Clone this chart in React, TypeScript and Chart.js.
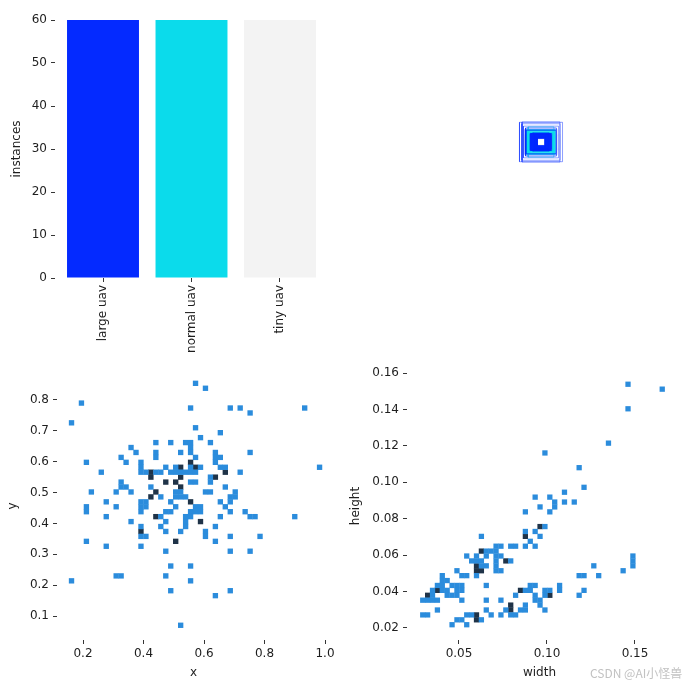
import React, { useEffect, useRef } from "react";
import { Chart, registerables, ChartConfiguration } from "chart.js";

Chart.register(...registerables);

// class counts (top left)
const classNames = ["large uav", "normal uav", "tiny uav"];
const instanceCounts = [60, 60, 60];
const classColors = ["#042AFF", "#0BDBEB", "#F3F3F3"];
const instanceTicks = [0, 10, 20, 30, 40, 50, 60];

// box centre histogram: [x, y, count]
const xyCells: number[][] = [
  [0.568, 0.853, 1], [0.601, 0.837, 1], [0.195, 0.788, 1],
  [0.552, 0.772, 1], [0.682, 0.772, 1], [0.714, 0.772, 1], [0.941, 0.772, 1],
  [0.746, 0.757, 1], [0.162, 0.724, 1], [0.568, 0.709, 1], [0.648, 0.694, 1], [0.585, 0.679, 1],
  [0.438, 0.661, 1], [0.487, 0.661, 1], [0.536, 0.661, 1], [0.552, 0.661, 1], [0.617, 0.661, 1],
  [0.358, 0.645, 1], [0.552, 0.645, 1],
  [0.375, 0.629, 1], [0.438, 0.629, 1], [0.520, 0.629, 1], [0.552, 0.629, 1], [0.632, 0.629, 1], [0.746, 0.629, 1],
  [0.326, 0.615, 1], [0.438, 0.615, 1], [0.568, 0.615, 1], [0.632, 0.615, 1], [0.648, 0.615, 1],
  [0.211, 0.598, 1], [0.342, 0.598, 1], [0.391, 0.598, 1], [0.552, 0.598, 2], [0.632, 0.598, 1],
  [0.391, 0.580, 1], [0.471, 0.580, 1], [0.504, 0.580, 1], [0.520, 0.580, 2], [0.552, 0.580, 1],
  [0.568, 0.580, 2], [0.585, 0.580, 1], [0.648, 0.580, 1], [0.664, 0.580, 1], [0.981, 0.580, 1],
  [0.260, 0.566, 1], [0.391, 0.566, 1], [0.408, 0.566, 1], [0.422, 0.566, 2], [0.438, 0.566, 1],
  [0.455, 0.566, 1], [0.487, 0.566, 1], [0.504, 0.566, 1], [0.520, 0.566, 1], [0.536, 0.566, 1],
  [0.552, 0.566, 1], [0.568, 0.566, 1], [0.664, 0.566, 2], [0.714, 0.566, 1],
  [0.422, 0.551, 2], [0.520, 0.551, 2], [0.617, 0.551, 1], [0.632, 0.551, 2],
  [0.326, 0.534, 1], [0.471, 0.534, 2], [0.504, 0.534, 2], [0.552, 0.534, 1], [0.568, 0.534, 1], [0.617, 0.534, 1],
  [0.326, 0.518, 1], [0.342, 0.518, 1], [0.422, 0.518, 1], [0.520, 0.518, 2], [0.664, 0.518, 1],
  [0.227, 0.502, 1], [0.307, 0.502, 1], [0.358, 0.502, 1], [0.438, 0.502, 2], [0.504, 0.502, 1],
  [0.520, 0.502, 1], [0.601, 0.502, 1], [0.617, 0.502, 1], [0.697, 0.502, 1],
  [0.422, 0.488, 2], [0.455, 0.488, 1], [0.504, 0.488, 1], [0.520, 0.488, 1], [0.536, 0.488, 1],
  [0.682, 0.488, 1], [0.697, 0.488, 1],
  [0.277, 0.471, 1], [0.391, 0.471, 1], [0.408, 0.471, 1], [0.487, 0.471, 1], [0.552, 0.471, 2],
  [0.648, 0.471, 1], [0.682, 0.471, 1],
  [0.211, 0.455, 1], [0.307, 0.455, 1], [0.391, 0.455, 1], [0.408, 0.455, 1], [0.504, 0.455, 1],
  [0.568, 0.455, 1], [0.585, 0.455, 1], [0.664, 0.455, 1],
  [0.211, 0.439, 1], [0.391, 0.439, 1], [0.471, 0.439, 1], [0.487, 0.439, 1], [0.552, 0.439, 1],
  [0.568, 0.439, 1], [0.585, 0.439, 1], [0.682, 0.439, 1], [0.730, 0.439, 1],
  [0.277, 0.423, 1], [0.438, 0.423, 2], [0.455, 0.423, 1], [0.536, 0.423, 1], [0.552, 0.423, 1],
  [0.648, 0.423, 1], [0.746, 0.423, 1], [0.763, 0.423, 1], [0.892, 0.423, 1],
  [0.358, 0.406, 1], [0.471, 0.406, 1], [0.536, 0.406, 1], [0.585, 0.406, 2],
  [0.391, 0.390, 1], [0.455, 0.390, 1], [0.536, 0.390, 1], [0.632, 0.390, 1],
  [0.391, 0.374, 2], [0.471, 0.374, 1], [0.520, 0.374, 1], [0.601, 0.374, 1],
  [0.391, 0.357, 1], [0.408, 0.357, 1], [0.601, 0.357, 1], [0.682, 0.357, 1], [0.779, 0.357, 1],
  [0.211, 0.341, 1], [0.504, 0.341, 2], [0.632, 0.341, 1],
  [0.277, 0.327, 1], [0.391, 0.327, 1],
  [0.471, 0.311, 1], [0.682, 0.311, 1], [0.746, 0.311, 1],
  [0.487, 0.262, 1], [0.552, 0.262, 1],
  [0.307, 0.229, 1], [0.326, 0.229, 1], [0.471, 0.229, 1],
  [0.162, 0.213, 1], [0.552, 0.213, 1],
  [0.487, 0.184, 1], [0.682, 0.184, 1], [0.632, 0.167, 1], [0.520, 0.070, 1],
];

// box size histogram: [width, height, count]
const whCells: number[][] = [
  [0.1461, 0.1543, 1], [0.1656, 0.1516, 1], [0.1461, 0.1406, 1], [0.1354, 0.1218, 1],
  [0.0992, 0.1163, 1], [0.1185, 0.1081, 1], [0.1213, 0.0974, 1], [0.1100, 0.0949, 1],
  [0.0935, 0.0921, 1], [0.1020, 0.0921, 1], [0.1044, 0.0894, 1], [0.1100, 0.0894, 1],
  [0.1157, 0.0894, 1], [0.0963, 0.0866, 1], [0.1044, 0.0866, 1], [0.0881, 0.0839, 1], [0.1020, 0.0839, 1],
  [0.0963, 0.0760, 2], [0.0992, 0.0760, 1], [0.0881, 0.0732, 1], [0.0935, 0.0732, 1],
  [0.0881, 0.0705, 2], [0.0963, 0.0705, 1], [0.0631, 0.0705, 1], [0.0907, 0.0677, 1],
  [0.0740, 0.0650, 1], [0.0796, 0.0650, 1], [0.0825, 0.0650, 1], [0.0881, 0.0650, 1], [0.0935, 0.0650, 1],
  [0.0712, 0.0650, 1], [0.0631, 0.0622, 2], [0.0659, 0.0622, 1], [0.0688, 0.0622, 1], [0.0712, 0.0622, 1],
  [0.0547, 0.0595, 1], [0.0603, 0.0595, 1], [0.0659, 0.0595, 1], [0.0712, 0.0595, 1], [0.0740, 0.0595, 1],
  [0.0575, 0.0567, 1], [0.0603, 0.0567, 1], [0.0631, 0.0567, 1], [0.0712, 0.0567, 1], [0.0768, 0.0567, 2],
  [0.0796, 0.0567, 1], [0.0603, 0.0539, 2], [0.0631, 0.0539, 1], [0.0659, 0.0539, 1], [0.0712, 0.0539, 1],
  [0.0491, 0.0512, 1], [0.0603, 0.0512, 2], [0.0631, 0.0512, 2], [0.0712, 0.0512, 1], [0.0740, 0.0512, 1],
  [0.0406, 0.0484, 1], [0.0519, 0.0484, 1], [0.0547, 0.0484, 1], [0.0603, 0.0484, 1],
  [0.0406, 0.0457, 1], [0.0434, 0.0457, 1], [0.0659, 0.0435, 1],
  [0.0378, 0.0429, 1], [0.0406, 0.0429, 1], [0.0462, 0.0429, 1], [0.0491, 0.0429, 1], [0.0519, 0.0429, 1],
  [0.0350, 0.0402, 1], [0.0378, 0.0402, 2], [0.0406, 0.0402, 1], [0.0434, 0.0402, 1], [0.0491, 0.0402, 1],
  [0.0519, 0.0402, 1], [0.0322, 0.0383, 2], [0.0350, 0.0383, 1], [0.0434, 0.0383, 1], [0.0462, 0.0383, 1],
  [0.0491, 0.0383, 1], [0.0294, 0.0356, 1], [0.0322, 0.0356, 1], [0.0350, 0.0356, 1], [0.0378, 0.0356, 1],
  [0.0519, 0.0356, 1], [0.0378, 0.0301, 1], [0.0294, 0.0273, 1], [0.0322, 0.0273, 1],
  [0.0547, 0.0273, 1], [0.0575, 0.0273, 1], [0.0491, 0.0246, 1], [0.0519, 0.0246, 1],
  [0.0462, 0.0218, 1], [0.0547, 0.0218, 1], [0.0603, 0.0273, 2], [0.0603, 0.0246, 2], [0.0631, 0.0246, 1],
  [0.0659, 0.0356, 1], [0.0659, 0.0301, 1], [0.0688, 0.0273, 1], [0.0740, 0.0356, 1], [0.0740, 0.0273, 1],
  [0.0768, 0.0301, 1], [0.0796, 0.0328, 2], [0.0796, 0.0301, 2], [0.0796, 0.0273, 1], [0.0825, 0.0273, 1],
  [0.0825, 0.0383, 1], [0.0853, 0.0301, 1], [0.0881, 0.0301, 1], [0.0881, 0.0328, 1],
  [0.0853, 0.0402, 2], [0.0881, 0.0402, 1], [0.0907, 0.0429, 1], [0.0935, 0.0429, 1], [0.0907, 0.0402, 1],
  [0.0935, 0.0383, 1], [0.0935, 0.0356, 1], [0.0963, 0.0356, 1], [0.0963, 0.0328, 1], [0.0992, 0.0301, 1],
  [0.0992, 0.0402, 1], [0.1020, 0.0402, 1], [0.0992, 0.0383, 1], [0.1020, 0.0383, 2],
  [0.1072, 0.0429, 1], [0.1072, 0.0402, 1], [0.1185, 0.0484, 1], [0.1213, 0.0484, 1],
  [0.1269, 0.0539, 1], [0.1297, 0.0484, 1], [0.1213, 0.0402, 1], [0.1185, 0.0383, 1],
  [0.1434, 0.0512, 1], [0.1491, 0.0595, 1], [0.1491, 0.0567, 1], [0.1491, 0.0539, 1],
];

const xTicks = [0.2, 0.4, 0.6, 0.8, 1.0];
const xTickLabels = ["0.2", "0.4", "0.6", "0.8", "1.0"];
const yTicks = [0.1, 0.2, 0.3, 0.4, 0.5, 0.6, 0.7, 0.8];
const yTickLabels = ["0.1", "0.2", "0.3", "0.4", "0.5", "0.6", "0.7", "0.8"];
const widthTicks = [0.05, 0.1, 0.15];
const widthTickLabels = ["0.05", "0.10", "0.15"];
const heightTicks = [0.02, 0.04, 0.06, 0.08, 0.1, 0.12, 0.14, 0.16];
const heightTickLabels = ["0.02", "0.04", "0.06", "0.08", "0.10", "0.12", "0.14", "0.16"];

// histogram bins (first bin centre, bin size)
const xyBins = { x0: 0.162, dx: 0.0164, y0: 0.07, dy: 0.016 };
const whBins = { x0: 0.0294, dx: 0.002777, y0: 0.0218, dy: 0.002695 };
const countColors = ["#2b8cdc", "#1f3348"];

// guessed class of a drawn box: flat boxes are "tiny", a width band is "normal"
const tinyAspectMax = 0.6;
const normalWidthBand = [0.085, 0.115];

const FONT = { family: "'DejaVu Sans', sans-serif", size: 12 };
const INK = "#1e1e1e";

const snap = (v: number, c0: number, d: number) => c0 + Math.round((v - c0) / d) * d;

function axis(o: {
  min: number; max: number; ticks: number[]; labels: string[]; title?: string;
  width?: number; height?: number; rotate?: boolean;
}): any {
  return {
    type: "linear",
    min: o.min,
    max: o.max,
    bounds: "data",
    offset: false,
    afterBuildTicks: (scale: any) => {
      scale.ticks = o.ticks.map((v) => ({ value: v }));
    },
    afterFit: (scale: any) => {
      if (o.width !== undefined) scale.width = o.width;
      if (o.height !== undefined) scale.height = o.height;
    },
    grid: {
      display: true, drawOnChartArea: false, drawTicks: true, offset: false,
      tickLength: 4, tickWidth: 0.9, tickColor: INK,
    },
    border: { display: false },
    ticks: {
      autoSkip: false,
      padding: o.height !== undefined ? 3 : 4,
      font: FONT,
      color: INK,
      maxRotation: o.rotate ? 90 : 0,
      minRotation: o.rotate ? 90 : 0,
      callback: (_v: any, i: number) => o.labels[i],
    },
    title: { display: !!o.title, text: o.title, font: FONT, color: INK, padding: 0 },
  };
}

function cellSets(cells: number[][], bins: { x0: number; dx: number; y0: number; dy: number }) {
  const radius = (ctx: any) => {
    const s = ctx.chart.scales.x;
    return (Math.abs(s.getPixelForValue(bins.dx) - s.getPixelForValue(0)) + 0.4) / Math.SQRT2;
  };
  return countColors.map((color, k) => ({
    data: cells
      .filter((c) => c[2] === k + 1)
      .map((c) => ({ x: snap(c[0], bins.x0, bins.dx), y: snap(c[1], bins.y0, bins.dy) })),
    pointStyle: "rect",
    pointRadius: radius,
    pointHoverRadius: radius,
    pointBackgroundColor: color,
    pointBorderWidth: 0,
  }));
}

const baseOptions = (padRight: number): any => ({
  animation: false,
  responsive: true,
  maintainAspectRatio: false,
  events: [],
  layout: { padding: { top: 12, right: padRight, bottom: 0, left: 0 } },
  plugins: { legend: { display: false }, tooltip: { enabled: false } },
});

const barConfig = (): ChartConfiguration => ({
  type: "bar",
  data: {
    datasets: [
      {
        data: instanceCounts.map((v, i) => ({ x: i, y: v })) as any,
        backgroundColor: classColors,
        barPercentage: 0.813,
        categoryPercentage: 1,
      },
    ],
  },
  options: {
    ...baseOptions(20),
    scales: {
      x: axis({ min: -0.5424, max: 2.5424, ticks: [0, 1, 2], labels: classNames, height: 80, rotate: true }),
      y: axis({ min: 0, max: 60, ticks: instanceTicks, labels: instanceTicks.map(String), title: "instances", width: 45 }),
    },
  },
});

const boxClass = (w: number, h: number) =>
  h / w < tinyAspectMax ? 2 : w >= normalWidthBand[0] && w < normalWidthBand[1] ? 1 : 0;

const boxConfig = (): ChartConfiguration => {
  const boxes: { w: number; h: number; cls: number }[] = [];
  whCells.forEach(([w, h, n]) => {
    for (let i = 0; i < n; i++) boxes.push({ w, h, cls: boxClass(w, h) });
  });
  // Chart.js paints the first dataset on top: blue first, light grey last
  boxes.sort((a, b) => a.cls - b.cls);
  return {
    type: "scatter",
    data: {
      datasets: boxes.map((b) => {
        const hw = b.w * 1000;
        const hh = b.h * 1000;
        return {
          data: [
            { x: 1000 - hw, y: 1000 - hh }, { x: 1000 + hw, y: 1000 - hh },
            { x: 1000 + hw, y: 1000 + hh }, { x: 1000 - hw, y: 1000 + hh },
            { x: 1000 - hw, y: 1000 - hh },
          ],
          showLine: true,
          borderColor: classColors[b.cls],
          borderWidth: b.w > 0.12 ? 0.45 : 0.6,
          pointRadius: 0,
          pointHoverRadius: 0,
          tension: 0,
        };
      }),
    },
    options: {
      ...baseOptions(0),
      layout: { padding: 0 },
      scales: {
        x: { type: "linear", min: 0, max: 2000, display: false },
        y: { type: "linear", min: 0, max: 2000, display: false },
      },
    },
  };
};

const xyConfig = (): ChartConfiguration => ({
  type: "scatter",
  data: { datasets: cellSets(xyCells, xyBins) as any },
  options: {
    ...baseOptions(20),
    scales: {
      x: axis({ min: 0.114, max: 1.0165, ticks: xTicks, labels: xTickLabels, title: "x", height: 40 }),
      y: axis({ min: 0.0223, max: 0.8907, ticks: yTicks, labels: yTickLabels, title: "y", width: 51 }),
    },
  },
});

const whConfig = (): ChartConfiguration => ({
  type: "scatter",
  data: { datasets: cellSets(whCells, whBins) as any },
  options: {
    ...baseOptions(10),
    scales: {
      x: axis({ min: 0.020455, max: 0.171023, ticks: widthTicks, labels: widthTickLabels, title: "width", height: 40 }),
      y: axis({ min: 0.01341, max: 0.160582, ticks: heightTicks, labels: heightTickLabels, title: "height", width: 58 }),
    },
  },
});

const ChartBox: React.FC<{
  left: number; top: number; width: number; height: number; config: () => ChartConfiguration;
}> = ({ left, top, width, height, config }) => {
  const canvasRef = useRef<HTMLCanvasElement>(null);

  useEffect(() => {
    if (!canvasRef.current) return;
    const chart = new Chart(canvasRef.current, config());
    return () => {
      chart.destroy();
    };
  }, [config]);

  return (
    <div style={{ position: "absolute", left, top, width, height }}>
      <canvas ref={canvasRef} />
    </div>
  );
};

export default function App() {
  return (
    <div
      style={{
        position: "absolute", left: 0, top: 0, width: 682, height: 687,
        background: "#fff", overflow: "hidden",
      }}
    >
      <ChartBox left={10} top={8} width={338} height={350} config={barConfig} />
      <ChartBox left={411} top={12} width={260} height={260} config={boxConfig} />
      <ChartBox left={6} top={360} width={344} height={320} config={xyConfig} />
      <ChartBox left={349} top={360} width={333} height={320} config={whConfig} />
      <div
        style={{
          position: "absolute", left: 590, top: 664, fontSize: 12, color: "#c2c2c2",
          fontFamily: "'Noto Sans CJK SC', 'DejaVu Sans', sans-serif", whiteSpace: "nowrap",
        }}
      >
        CSDN @AI小怪兽
      </div>
    </div>
  );
}
